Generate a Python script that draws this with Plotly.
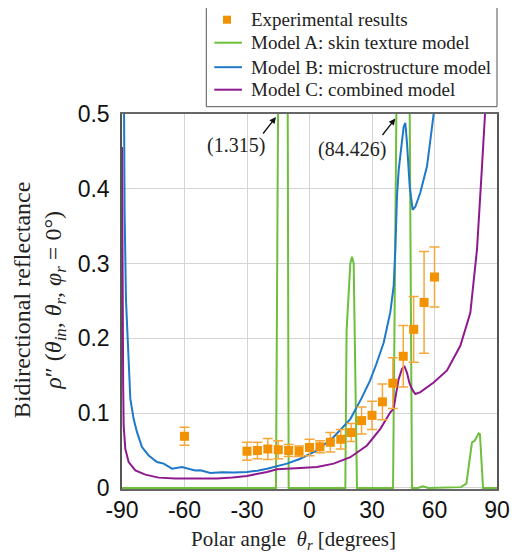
import plotly.graph_objects as go

# ---- data ----
exp_theta = [-60, -30, -25, -20, -15, -10, -5, 0, 5, 10, 15, 20, 25, 30, 35, 40, 45, 50, 55, 60]
exp_rho = [0.069, 0.049, 0.050, 0.052, 0.051, 0.050, 0.049, 0.054, 0.055, 0.061, 0.065,
           0.074, 0.090, 0.097, 0.115, 0.140, 0.176, 0.212, 0.248, 0.282]
exp_err = [0.012, 0.012, 0.011, 0.014, 0.012, 0.008, 0.007, 0.011, 0.008, 0.013, 0.013,
           0.012, 0.018, 0.019, 0.024, 0.034, 0.041, 0.044, 0.068, 0.040]

a_theta = [-90, -16.1, -15, -13, -10.5, -10, 17.2, 17.8, 19.6, 20.4, 21.2, 22.8,
           40.1, 41.7, 45, 48.1, 49.2, 52, 54.5, 57, 72.7, 75.3, 78.0, 79.3, 81.2, 81.8, 83.3, 90]
a_rho = [0, 0, 0.55, 1.315, 0.55, 0, 0, 0.21, 0.30, 0.309, 0.30, 0,
         0, 0.5, 84.426, 0.5, 0, 0, 0.002, 0, 0.001, 0.0057, 0.061, 0.063, 0.073, 0.072, 0, 0]

b_theta = [-89.5, -89.2, -88.75, -88.1, -87.1, -86.0, -84.4, -82.8, -80.4, -77.2, -73.2, -70.0,
           -66, -61.2, -57.2, -54.8, -52.4, -47.6, -42, -36.4, -30, -25, -20.4, -15, -10.8, -4.4,
           3.6, 11.6, 19.6, 25, 29, 32, 35.6, 38.8, 40.4, 41.2, 42.0, 42.8, 43.9, 45.2, 46.0,
           46.8, 48.1, 49.5, 50.8, 53.2, 56.4, 58, 59.6, 61]
b_rho = [0.75, 0.5, 0.37, 0.252, 0.185, 0.119, 0.092, 0.0745, 0.0546, 0.0434, 0.0346, 0.0324,
         0.0257, 0.028, 0.0248, 0.0234, 0.0235, 0.020, 0.021, 0.0204, 0.0213, 0.023, 0.0257, 0.029,
         0.0324, 0.039, 0.050, 0.068, 0.092, 0.12, 0.143, 0.165, 0.194, 0.235, 0.27, 0.32, 0.39,
         0.425, 0.452, 0.483, 0.488, 0.461, 0.403, 0.372, 0.376, 0.395, 0.43, 0.462, 0.5, 0.56]

c_theta = [-90, -89.85, -89.7, -89.45, -89.2, -88.4, -86.8, -83.6, -78.8, -72.4, -64.4, -54.8,
           -44.4, -37, -30, -20.4, -15.6, -4.4, 3.6, 11.6, 19.6, 27.6, 34, 38.8, 40.4, 41.5, 42.8,
           44.4, 45.5, 46.8, 48, 49.2, 50.8, 53.2, 59.6, 66, 72.4, 77.2, 80.4, 82.8, 84.4, 85.5]
c_rho = [0.456, 0.33, 0.252, 0.14, 0.083, 0.052, 0.0346, 0.0234, 0.0177, 0.0137, 0.0124, 0.0124,
         0.0124, 0.014, 0.016, 0.0213, 0.0248, 0.0266, 0.028, 0.0324, 0.041, 0.0567, 0.079, 0.101,
         0.106, 0.125, 0.1455, 0.159, 0.163, 0.154, 0.14, 0.132, 0.1256, 0.128, 0.141, 0.157, 0.190,
         0.234, 0.319, 0.430, 0.5, 0.56]

series_names = ["Experimental results", "Model A: skin texture model",
                "Model B: microstructure model", "Model C: combined model"]
peak_labels = ["(1.315)", "(84.426)"]

x_ticks = [-90, -60, -30, 0, 30, 60, 90]
x_tick_labels = ["-90", "-60", "-30", "0", "30", "60", "90"]
y_ticks = [0, 0.1, 0.2, 0.3, 0.4, 0.5]
y_tick_labels = ["0", "0.1", "0.2", "0.3", "0.4", "0.5"]

GREEN = "#6dbf3c"
BLUE = "#1f78c8"
PURPLE = "#8e1a8e"
ORANGE = "#f39200"
SERIF = "Liberation Serif, Times New Roman, serif"
SANS = "Liberation Sans, Arial, sans-serif"
TXT = "#222222"

fig = go.Figure()
fig.add_trace(go.Scatter(x=a_theta, y=a_rho, mode="lines", name=series_names[1],
                         line=dict(color=GREEN, width=2)))
fig.add_trace(go.Scatter(x=b_theta, y=b_rho, mode="lines", name=series_names[2],
                         line=dict(color=BLUE, width=2)))
fig.add_trace(go.Scatter(x=c_theta, y=c_rho, mode="lines", name=series_names[3],
                         line=dict(color=PURPLE, width=2)))
fig.add_trace(go.Scatter(x=exp_theta, y=exp_rho, mode="markers", name=series_names[0],
                         marker=dict(symbol="square", size=9, color=ORANGE),
                         error_y=dict(type="data", array=exp_err, color="#f5a83a",
                                      thickness=1.5, width=5)))

# The page body has an 8px default margin, so the figure is offset by it.
W, H = 510, 546
fig.update_layout(
    width=W, height=H,
    margin=dict(l=114, r=21, t=106, b=65, autoexpand=False),
    paper_bgcolor="white", plot_bgcolor="white",
    showlegend=False,
    xaxis=dict(range=[-90, 90], tickvals=x_ticks, ticktext=x_tick_labels, showgrid=True,
               gridcolor="#d4d4d4", gridwidth=1, zeroline=False, showline=True,
               linecolor="#666666", linewidth=1.5, mirror=True, ticks="", ticklabelstandoff=0,
               tickfont=dict(family=SANS, size=23, color="#111111")),
    yaxis=dict(range=[-0.0015, 0.5], tickvals=y_ticks, ticktext=y_tick_labels, showgrid=True,
               gridcolor="#d4d4d4", gridwidth=1, zeroline=False, showline=True,
               linecolor="#555555", linewidth=1.5, mirror=True, ticks="", ticklabelstandoff=6,
               tickfont=dict(family=SANS, size=23, color="#111111")),
)

# ---- legend box drawn in paper coordinates (above the plot area) ----
PW, PH = 375.0, 375.0          # plot-area size in px
def px_x(dx):                   # px offset from plot left -> paper x
    return dx / PW
def px_y(dy):                   # px offset above plot top -> paper y
    return 1 + dy / PH

fig.add_shape(type="rect", xref="paper", yref="paper",
              x0=px_x(84.3), x1=px_x(375), y0=px_y(7.3), y1=px_y(107.3),
              line=dict(color="#555555", width=1), fillcolor="white", layer="above")
row_offsets = [94.3, 71.3, 46.8, 24.3]   # px above plot top for each legend row
line_colors = [None, GREEN, BLUE, PURPLE]
for i, name in enumerate(series_names):
    yy = px_y(row_offsets[i])
    if i == 0:
        fig.add_shape(type="rect", xref="paper", yref="paper",
                      x0=px_x(101), x1=px_x(109), y0=yy - 4 / PH, y1=yy + 4 / PH,
                      line=dict(width=0), fillcolor=ORANGE, layer="above")
    else:
        fig.add_shape(type="line", xref="paper", yref="paper",
                      x0=px_x(92.3), x1=px_x(120), y0=yy, y1=yy,
                      line=dict(color=line_colors[i], width=2), layer="above")
    fig.add_annotation(xref="paper", yref="paper", x=px_x(127.3), y=yy, text=name,
                       xanchor="left", yanchor="middle", showarrow=False,
                       font=dict(family=SERIF, size=19, color=TXT))

# ---- peak value call-outs ----
ann_font = dict(family=SERIF, size=20, color=TXT)
fig.add_annotation(x=-35.3, y=0.4585, text=peak_labels[0], showarrow=False, font=ann_font)
fig.add_annotation(x=20.4, y=0.4527, text=peak_labels[1], showarrow=False, font=ann_font)
fig.add_annotation(x=-16.1, y=0.496, text="", showarrow=True, ax=-14, ay=18,
                   arrowhead=2, arrowsize=1, arrowwidth=1.3, arrowcolor="#111111", standoff=0)
fig.add_annotation(x=41.2, y=0.494, text="", showarrow=True, ax=-14, ay=18,
                   arrowhead=2, arrowsize=1, arrowwidth=1.3, arrowcolor="#111111", standoff=0)

# ---- axis titles ----
fig.add_annotation(xref="paper", yref="paper", x=(293 - 122) / PW, y=-0.135,
                   text="Polar angle  <i>θ</i><sub><i>r</i></sub> [degrees]",
                   showarrow=False, font=dict(family=SERIF, size=21, color=TXT),
                   xanchor="center", yanchor="middle")
fig.add_annotation(xref="paper", yref="paper", x=-0.22, y=0.505,
                   text="Bidirectional reflectance<br><i>ρ</i>″ (<i>θ</i><sub><i>in</i></sub>, "
                        "<i>θ</i><sub><i>r</i></sub>, <i>φ</i><sub><i>r</i></sub> = 0°)",
                   textangle=-90, showarrow=False,
                   font=dict(family=SERIF, size=24, color=TXT),
                   xanchor="center", yanchor="middle")

fig.write_html("out.html")
